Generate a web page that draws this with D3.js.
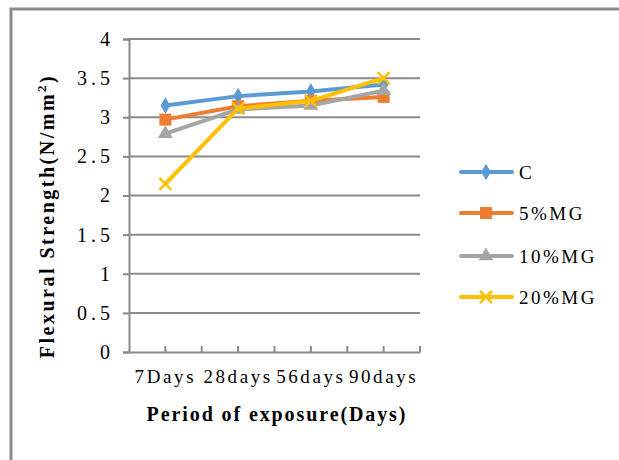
<!DOCTYPE html>
<html>
<head>
<meta charset="utf-8">
<script src="https://cdn.jsdelivr.net/npm/d3@7"></script>
<style>
  body { margin: 0; background: #fff; }
  text { font-family: "Liberation Serif", "Times New Roman", serif; fill: #000; }
</style>
</head>
<body>
<div id="chart"></div>
<script>
var categories = ["7Days", "28days", "56days", "90days"];
var seriesNames = ["C", "5%MG", "10%MG", "20%MG"];
var valuesC = [3.15, 3.27, 3.33, 3.42];
var values5 = [2.97, 3.14, 3.21, 3.26];
var values10 = [2.79, 3.10, 3.15, 3.34];
var values20 = [2.15, 3.11, 3.21, 3.50];
var yTicks = [0, 0.5, 1, 1.5, 2, 2.5, 3, 3.5, 4];

var colors = ["#5B9BD5", "#ED7D31", "#A5A5A5", "#FFC000"];
var markers = ["diamond", "square", "triangle", "cross"];
var allValues = [valuesC, values5, values10, values20];

var width = 619, height = 460;
var plotLeft = 129, plotRight = 420, plotTop = 39, plotBottom = 352;
var axisGrey = "#8a8a8a";

var svg = d3.select("#chart").append("svg")
    .attr("width", width)
    .attr("height", height);

//Outer frame (only top and left edges visible)
svg.append("path")
    .attr("d", "M11,460 L11,9 L619,9")
    .attr("fill", "none")
    .attr("stroke", "#8c8c8c")
    .attr("stroke-width", 3);

var x = d3.scaleBand().domain(categories).range([plotLeft, plotRight]);
var y = d3.scaleLinear().domain([0, 4]).range([plotBottom, plotTop]);

//Gridlines
svg.append("g").selectAll("line")
    .data(yTicks.filter(function (d) { return d > 0; }))
    .enter().append("line")
    .attr("x1", plotLeft).attr("x2", plotRight)
    .attr("y1", function (d) { return y(d); })
    .attr("y2", function (d) { return y(d); })
    .attr("stroke", axisGrey)
    .attr("stroke-width", 2);

//Y axis
var yAxis = svg.append("g")
    .attr("transform", "translate(" + plotLeft + ",0)")
    .call(d3.axisLeft(y).tickValues(yTicks).tickSize(6).tickPadding(9)
        .tickFormat(function (d) { return d; }));
yAxis.select(".domain").attr("stroke", axisGrey).attr("stroke-width", 2);
yAxis.selectAll(".tick line").attr("stroke", axisGrey).attr("stroke-width", 2);
yAxis.selectAll("text")
    .style("font-size", "20px")
    .style("font-family", "Liberation Serif")
    .style("letter-spacing", "4px");

//X axis
var xAxis = svg.append("g")
    .attr("transform", "translate(0," + plotBottom + ")")
    .call(d3.axisBottom(x).tickSize(0).tickPadding(18));
xAxis.select(".domain").attr("stroke", axisGrey).attr("stroke-width", 2);
xAxis.selectAll("text")
    .style("font-size", "19px")
    .style("font-family", "Liberation Serif")
    .style("letter-spacing", "2.6px");

//half-band tick marks pointing up
var halfTicks = [];
categories.forEach(function (c) {
    halfTicks.push(x(c) + x.bandwidth() / 2);
    halfTicks.push(x(c) + x.bandwidth());
});
svg.append("g").selectAll("line")
    .data(halfTicks)
    .enter().append("line")
    .attr("x1", function (d) { return d; })
    .attr("x2", function (d) { return d; })
    .attr("y1", plotBottom).attr("y2", plotBottom - 6)
    .attr("stroke", axisGrey)
    .attr("stroke-width", 2);

//Axis titles
svg.append("text")
    .attr("x", 277).attr("y", 421)
    .attr("text-anchor", "middle")
    .style("font-size", "20px")
    .style("font-weight", "bold")
    .style("letter-spacing", "1.9px")
    .text("Period of exposure(Days)");

var yt = svg.append("text")
    .attr("transform", "translate(54,216) rotate(-90)")
    .attr("text-anchor", "middle")
    .style("font-size", "20px")
    .style("font-weight", "bold")
    .style("letter-spacing", "2.5px");
yt.append("tspan").text("Flexural Strength(N/mm");
yt.append("tspan").attr("dy", -8).style("font-size", "13px").text("2");
yt.append("tspan").attr("dy", 8).text(")");

function drawMarker(g, type, color) {
    if (type === "diamond") {
        g.append("path").attr("d", d3.symbol(d3.symbolDiamond, 80)()).attr("fill", color);
    } else if (type === "square") {
        g.append("rect").attr("x", -6).attr("y", -6).attr("width", 12).attr("height", 12).attr("fill", color);
    } else if (type === "triangle") {
        g.append("path").attr("d", d3.symbol(d3.symbolTriangle, 95)()).attr("fill", color);
    } else {
        g.append("path").attr("d", "M-6,-6L6,6M-6,6L6,-6")
            .attr("stroke", color).attr("stroke-width", 2.5).attr("fill", "none");
    }
}

var line = d3.line()
    .x(function (d, i) { return x(categories[i]) + x.bandwidth() / 2; })
    .y(function (d) { return y(d); });

allValues.forEach(function (vals, s) {
    var g = svg.append("g");
    g.append("path")
        .attr("d", line(vals))
        .attr("fill", "none")
        .attr("stroke", colors[s])
        .attr("stroke-width", 4)
        .attr("stroke-linejoin", "round")
        .attr("stroke-linecap", "round");
    vals.forEach(function (v, i) {
        var m = g.append("g")
            .attr("transform", "translate(" + (x(categories[i]) + x.bandwidth() / 2) + "," + y(v) + ")");
        drawMarker(m, markers[s], colors[s]);
    });
});

//Legend
var legendY = [172, 213, 256, 297];
seriesNames.forEach(function (name, s) {
    var lg = svg.append("g").attr("transform", "translate(0," + legendY[s] + ")");
    lg.append("line")
        .attr("x1", 461).attr("x2", 512)
        .attr("stroke", colors[s])
        .attr("stroke-width", 4)
        .attr("stroke-linecap", "round");
    var m = lg.append("g").attr("transform", "translate(486,0)");
    drawMarker(m, markers[s], colors[s]);
    lg.append("text")
        .attr("x", 519).attr("y", 7)
        .style("font-size", "19px")
        .style("letter-spacing", "2.5px")
        .text(name);
});
</script>
</body>
</html>
